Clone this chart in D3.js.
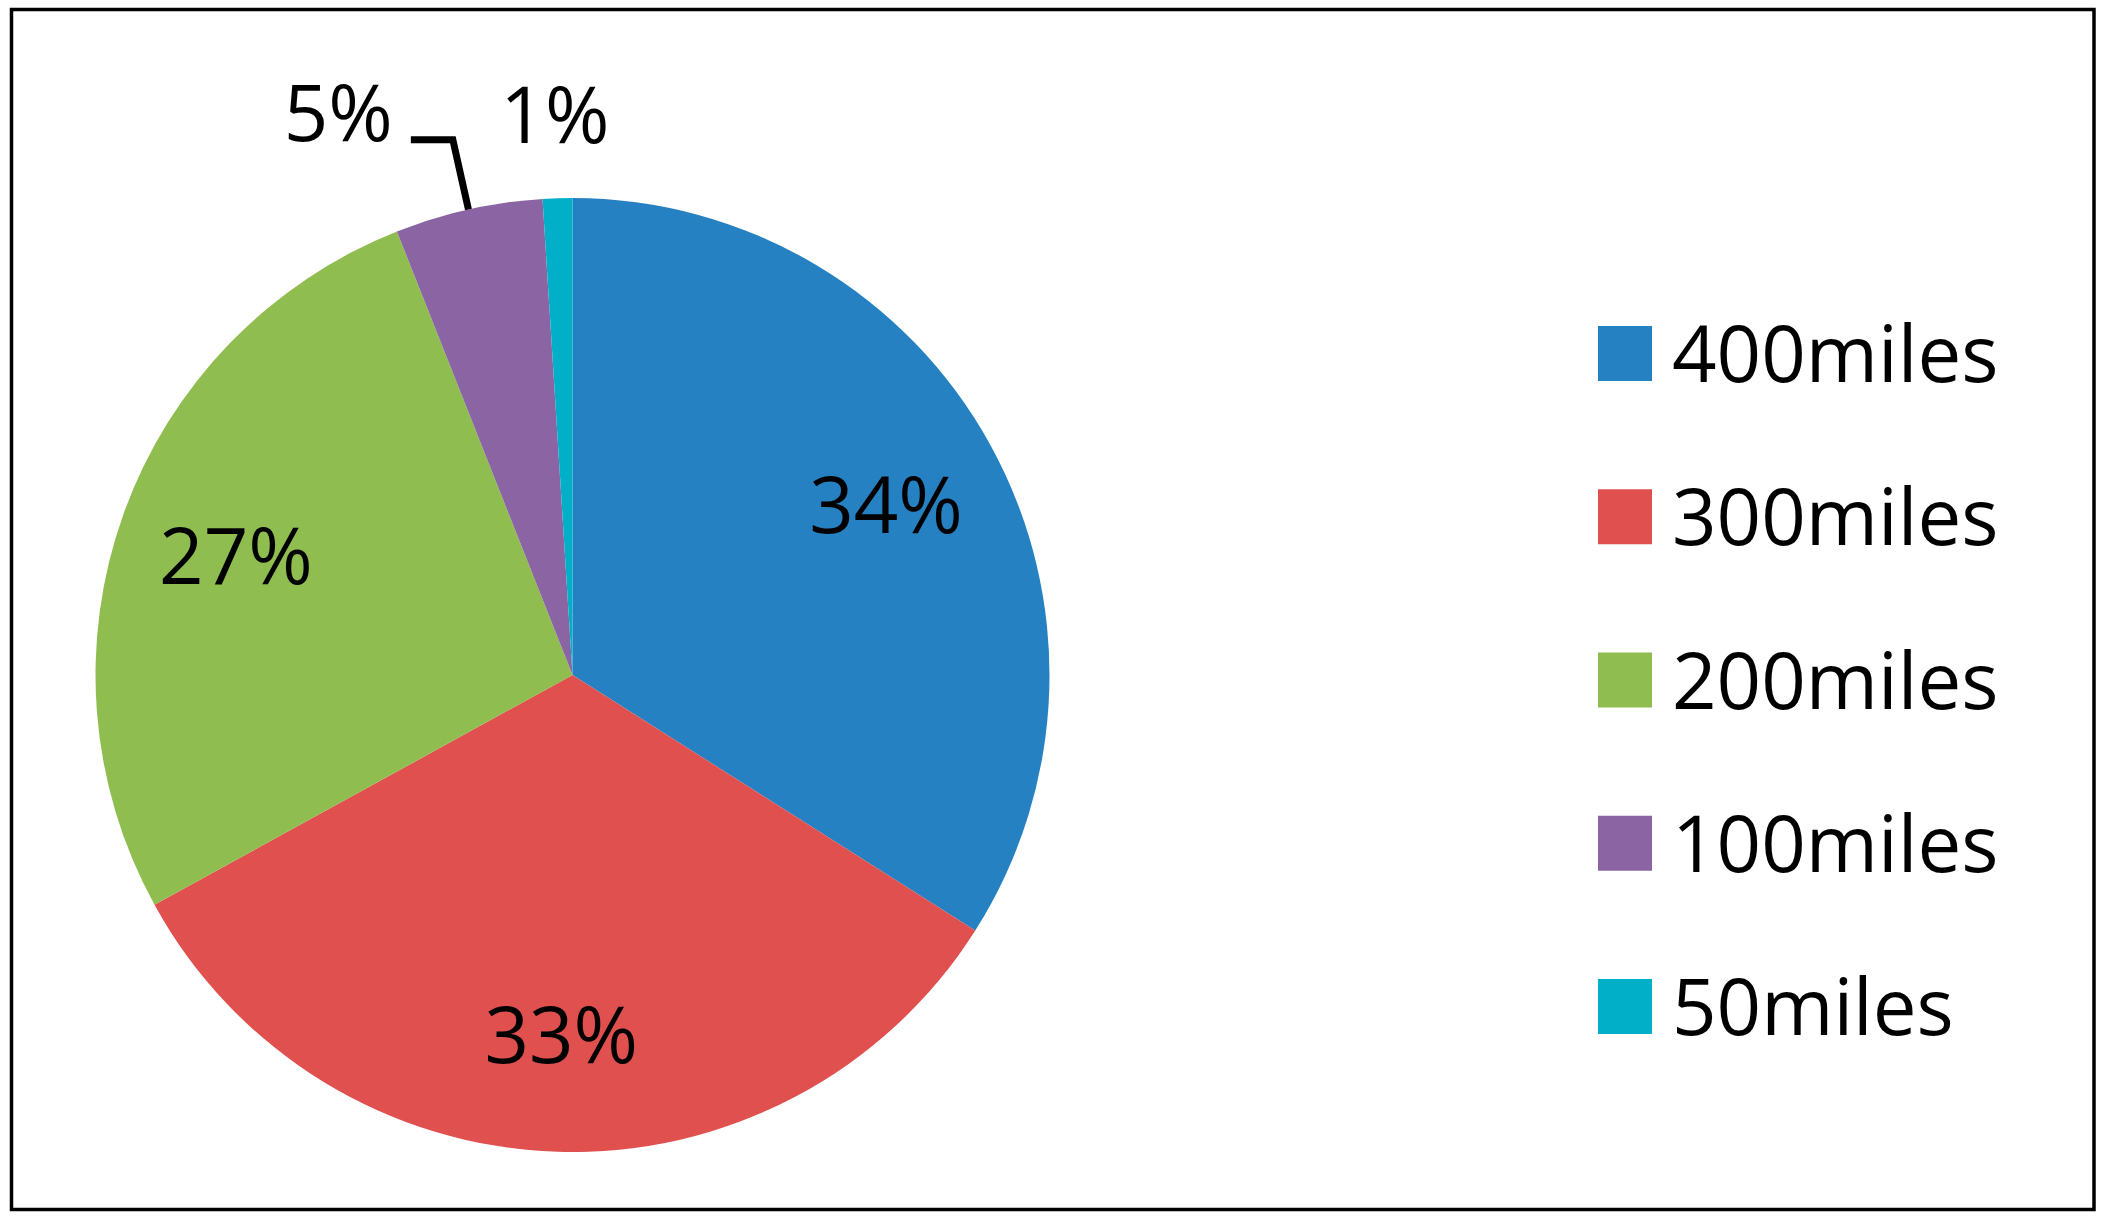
<!DOCTYPE html>
<html>
<head>
<meta charset="utf-8">
<script src="https://cdn.jsdelivr.net/npm/d3@7"></script>
<style>
  html, body { margin: 0; padding: 0; background: #fff; }
  svg { display: block; }
  text { font-family: "Open Sans", "DejaVu Sans", sans-serif; fill: #000; }
</style>
</head>
<body>
<svg id="chart" width="2106" height="1222"></svg>
<script>
// ---- data ----
const categories = ["400miles", "300miles", "200miles", "100miles", "50miles"];
const values = [34, 33, 27, 5, 1];
const colors = ["#2581C1", "#DF504E", "#8FBD4F", "#8B65A3", "#02AFC8"];

// ---- layout ----
const W = 2106, H = 1222;
const cx = 572.5, cy = 675, R = 477;
const fontSize = 78;

const svg = d3.select("#chart");
svg.append("rect").attr("width", W).attr("height", H).attr("fill", "#fff");
svg.append("rect")
  .attr("x", 11.5).attr("y", 9.5).attr("width", 2082.5).attr("height", 1200)
  .attr("fill", "none").attr("stroke", "#000").attr("stroke-width", 3.5);

const data = categories.map((c, i) => ({ cat: c, value: values[i], color: colors[i] }));
const pie = d3.pie().value(d => d.value).sort(null);
const arcs = pie(data);
const arc = d3.arc().innerRadius(0).outerRadius(R);
const labelArc = d3.arc().innerRadius(R * 0.75).outerRadius(R * 0.75);

const g = svg.append("g").attr("transform", `translate(${cx},${cy})`);
g.selectAll("path.slice").data(arcs).enter().append("path")
  .attr("class", "slice")
  .attr("d", arc)
  .attr("fill", d => d.data.color);

const total = d3.sum(values);
const pct = d => Math.round(d.value / total * 100) + "%";

// inside labels for large slices
arcs.forEach((a, i) => {
  const mid = (a.startAngle + a.endAngle) / 2;
  if (a.data.value >= 10) {
    const [x, y] = labelArc.centroid(a);
    g.append("text")
      .attr("x", x).attr("y", y)
      .attr("text-anchor", "middle")
      .attr("dominant-baseline", "central")
      .attr("font-size", fontSize)
      .text(pct(a.data));
  } else {
    const labelY = -R - 85;
    if (a.data.value >= 3) {
      // leader line
      const ex = Math.sin(mid) * R, ey = -Math.cos(mid) * R;
      const bx = Math.sin(mid) * R * 1.15, by = -Math.cos(mid) * R * 1.15;
      const hx = bx - 42;
      g.append("path")
        .attr("d", `M${ex},${ey}L${bx},${by}L${hx},${by}`)
        .attr("fill", "none").attr("stroke", "#000").attr("stroke-width", 7);
      g.append("text")
        .attr("x", hx - 18).attr("y", by + 1)
        .attr("text-anchor", "end")
        .attr("font-size", fontSize)
        .text(pct(a.data));
    } else {
      const rr = R * 1.18;
      g.append("text")
        .attr("x", Math.sin(mid) * rr).attr("y", labelY)
        .attr("text-anchor", "middle")
        .attr("dominant-baseline", "central")
        .attr("font-size", fontSize)
        .text(pct(a.data));
    }
  }
});

// legend
const ly = d3.scalePoint().domain(categories).range([326, 979]);
const leg = svg.append("g");
categories.forEach((c, i) => {
  leg.append("rect")
    .attr("x", 1598).attr("y", ly(c))
    .attr("width", 54).attr("height", 55)
    .attr("fill", colors[i]);
  leg.append("text")
    .attr("x", 1672).attr("y", ly(c) + 56)
    .attr("font-size", fontSize)
    .text(c);
});
</script>
</body>
</html>
